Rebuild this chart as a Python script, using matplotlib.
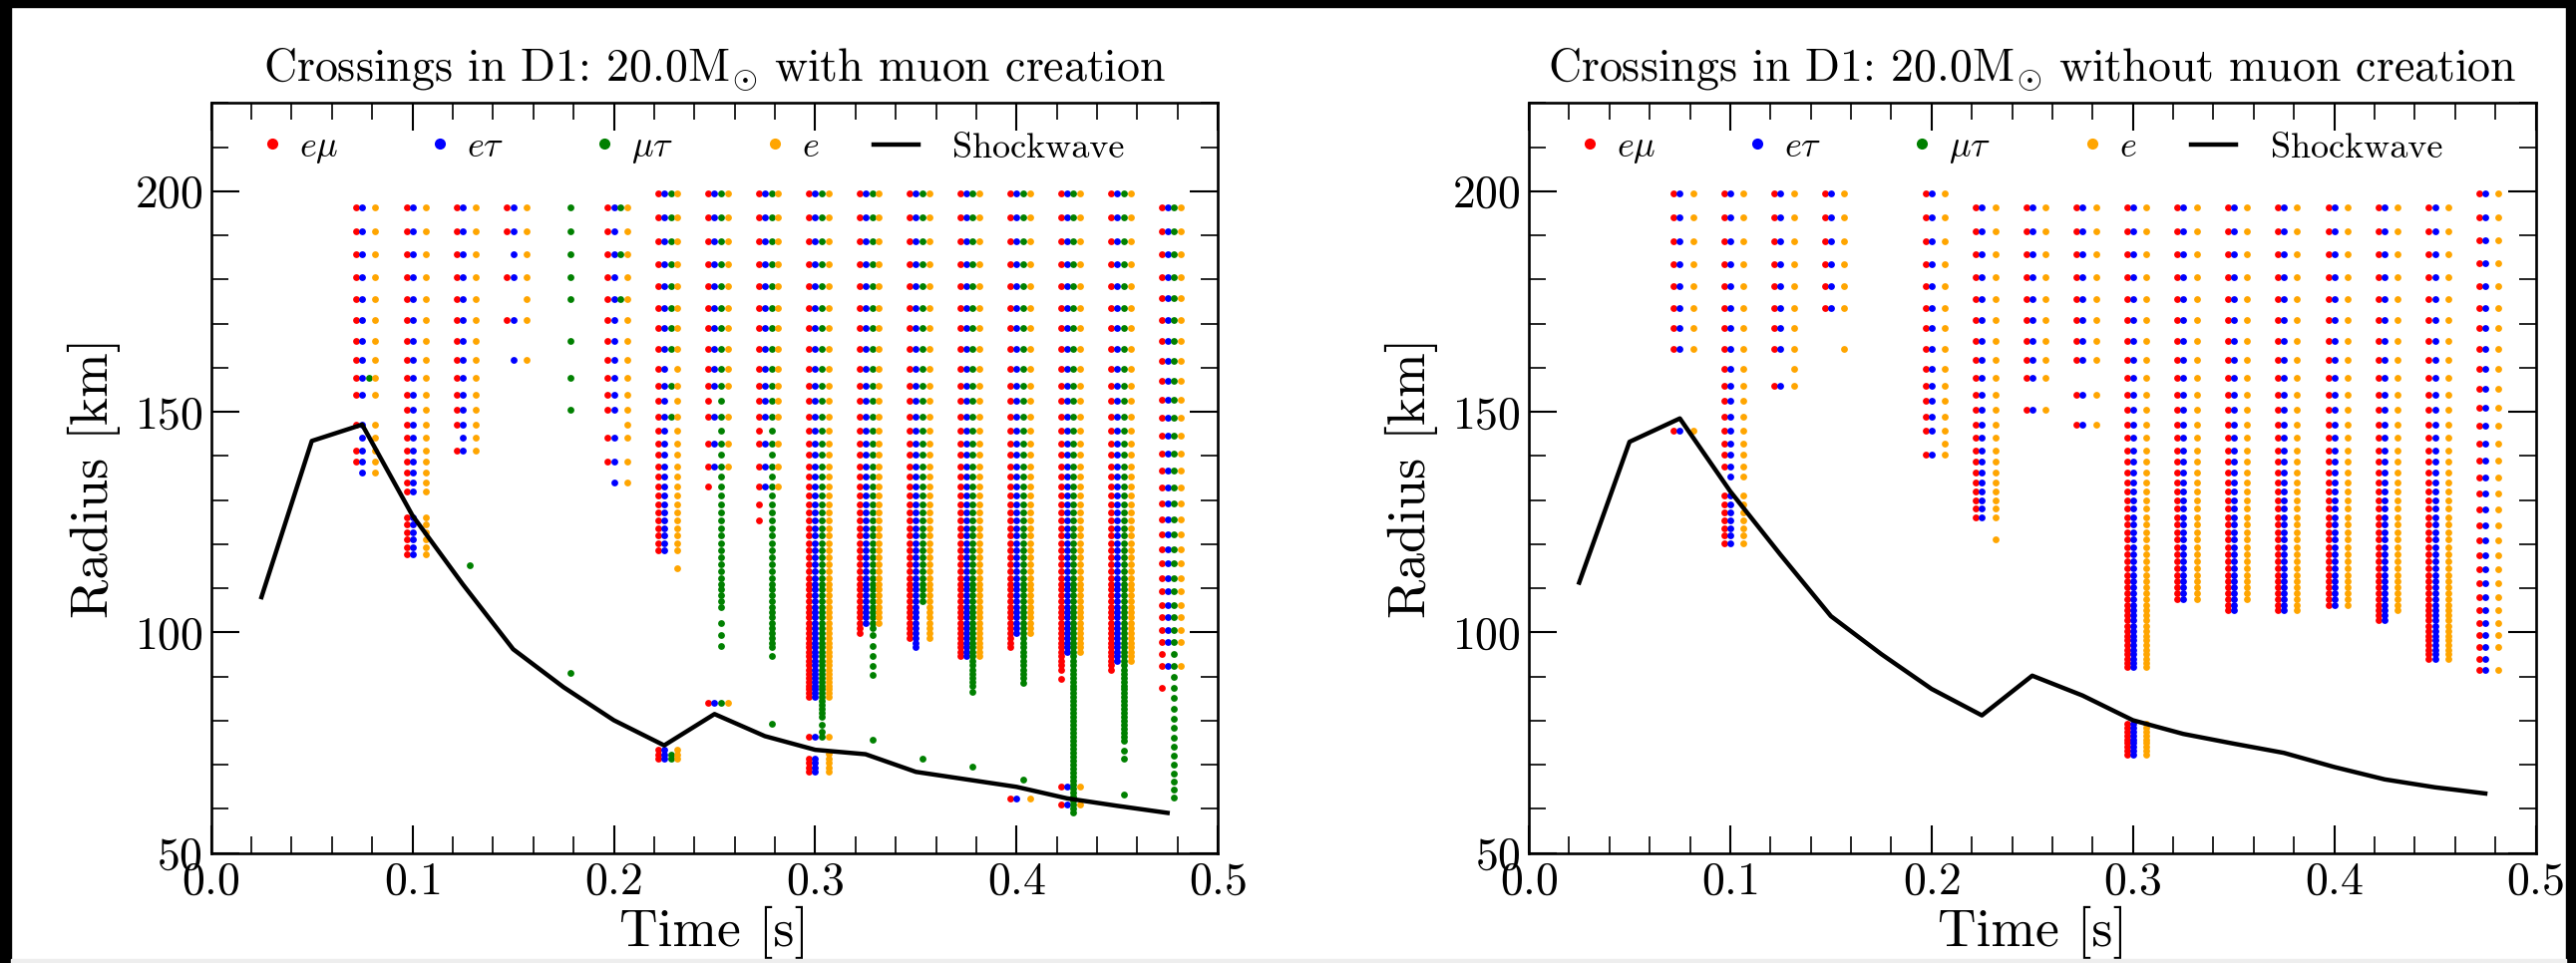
import matplotlib
matplotlib.use('Agg')
import matplotlib.pyplot as plt
from matplotlib.lines import Line2D
from matplotlib.patches import Rectangle
from matplotlib.ticker import MultipleLocator

plt.rcParams['font.family'] = 'cmr10'
plt.rcParams['mathtext.fontset'] = 'cm'
plt.rcParams['axes.formatter.use_mathtext'] = True
plt.rcParams['axes.unicode_minus'] = False

# ---------------- data ----------------
SHOCK_TIMES = [0.025, 0.05, 0.075, 0.1, 0.125, 0.15, 0.175, 0.2, 0.225, 0.25,
               0.275, 0.3, 0.325, 0.35, 0.375, 0.4, 0.425, 0.45, 0.475]
SHOCK_WITH = [108.0, 143.4, 147.1, 126.5, 110.9, 96.2, 87.6, 80.1, 74.4, 81.5,
              76.5, 73.4, 72.4, 68.4, 66.7, 65.0, 62.4, 60.7, 59.1]
SHOCK_WITHOUT = [111.3, 143.2, 148.5, 132.0, 117.6, 103.7, 95.1, 87.2, 81.2, 90.2,
                 85.7, 80.1, 77.0, 74.8, 72.7, 69.5, 66.7, 64.9, 63.5]

# radial grid levels
MESH_A = [196.4, 191.0, 185.7, 180.6, 175.6, 170.8, 166.1, 161.7, 157.6, 153.9,
          150.4, 147.1, 144.1, 141.3, 138.7, 136.3, 134.0, 131.9, 129.9, 128.0,
          126.1, 124.4, 122.7, 121.0, 119.3, 117.7, 116.1, 114.5, 113.0, 111.6,
          110.3, 109.0, 107.6, 106.3, 105.1, 103.9, 102.7, 101.5, 100.4, 99.3,
          98.2, 97.1, 96.1, 95.1, 94.1, 93.1, 92.1, 91.1, 90.2, 89.3,
          88.4, 87.5, 86.6, 85.7, 84.8, 83.9, 83.0, 82.1, 81.2, 80.3,
          79.4, 78.5, 77.6, 76.7, 75.8, 74.9, 74.0, 73.1, 72.2, 71.3,
          70.4, 69.5, 68.6, 67.7, 66.8, 65.9, 65.0, 64.1, 63.2, 62.3,
          61.4, 60.5, 59.6]
MESH_B = [199.6, 194.0, 188.7, 183.5, 178.4, 173.6, 169.0, 164.3, 159.8, 156.0,
          152.4, 148.9, 145.7, 142.8, 140.2, 137.6, 135.3, 133.1, 131.0, 129.1,
          127.2, 125.3, 123.7, 122.0, 120.3, 118.6, 117.1, 115.4, 113.9, 112.4,
          111.0, 109.7, 108.4, 107.0, 105.8, 104.5, 103.4, 102.2, 101.0, 99.9,
          98.8, 97.7, 96.7, 95.6, 94.6, 93.6, 92.6, 91.6, 90.7, 89.8,
          88.9, 88.0, 87.1, 86.2, 85.3, 84.4, 83.5, 82.6, 81.7, 80.8,
          79.9, 79.0, 78.1, 77.2, 76.3, 75.4, 74.5, 73.6, 72.7, 71.8,
          70.9, 70.0, 69.1, 68.2, 67.3, 66.4, 65.5, 64.6, 63.7, 62.8,
          61.9, 61.0, 60.1, 59.2]
MESH_GA = [196.4, 191.0, 185.7, 180.6, 175.7, 170.8, 166.1, 161.6, 157.1, 152.8,
           148.6, 144.5, 140.5, 136.7, 132.9, 129.3, 125.7, 122.3, 118.9, 115.6,
           112.4, 109.4, 106.3, 103.4, 100.6, 97.8, 95.1, 92.5, 90.0, 87.5,
           85.1, 82.7, 80.5, 78.3, 76.1, 74.0, 72.0, 70.0, 68.1, 66.2,
           64.4, 62.6, 60.9, 59.2]
MESH_GB = [199.6, 194.1, 188.8, 183.6, 178.5, 173.6, 168.9, 164.2, 159.7, 155.3,
           151.0, 146.9, 142.8, 138.9, 135.1, 131.4, 127.8, 124.3, 120.8, 117.5,
           114.3, 111.1, 108.1, 105.1, 102.2, 99.4, 96.7, 94.0, 91.4, 88.9]

# ---- left panel: with muon creation ----
# each column: runs (upper, lower) over that column's grid, or single radii
COL_TIMES_WITH = [0.075, 0.1, 0.125, 0.15, 0.175, 0.2, 0.225, 0.25, 0.275, 0.3,
                  0.325, 0.35, 0.375, 0.4, 0.425, 0.45, 0.475]
COL_MESH_WITH = ['A', 'A', 'A', 'A', 'A', 'A', 'B', 'B', 'B', 'B',
                 'B', 'B', 'B', 'B', 'B', 'B', 'GA']
EMU_WITH = [
    [(196.4, 153.9), 147.1, (141.3, 138.7)],
    [(196.4, 131.9), (126.1, 117.7)],
    [(196.4, 147.1), 141.3],
    [196.4, 191.0, 180.6, 170.8],
    [],
    [(196.4, 150.4), 144.1, 138.7],
    [(199.6, 118.6), 73.4, 72.4, 71.4],
    [(199.6, 156.0), 152.4, 148.9, 142.8, 137.6, 133.1, 84.1],
    [(199.6, 145.7), 142.8, 137.6, 133.1, 129.1, 125.3],
    [(199.6, 85.3), 76.4, 71.4, 70.4, 69.4, 68.5],
    [(199.6, 99.9)],
    [(199.6, 98.8)],
    [(199.6, 94.6)],
    [(199.6, 96.7), 62.4],
    [(199.6, 91.6), 89.5, 65.0, 60.9],
    [(199.6, 91.6)],
    [(196.4, 97.8), 95.1, 92.5, 87.5],
]
ETAU_WITH = [
    [(196.4, 153.9), (147.1, 136.3)],
    [(196.4, 131.9), (126.1, 117.7)],
    [(196.4, 141.3)],
    [196.4, 191.0, 185.7, 180.6, 170.8, 161.7],
    [],
    [(196.4, 150.4), 144.1, 138.7, 134.0],
    [(199.6, 118.6), 73.4, 72.4, 71.4],
    [(199.6, 156.0), 148.9, 142.8, 137.6, 84.1],
    [(199.6, 148.9), 142.8, 137.6, 133.1],
    [(199.6, 85.3), 76.4, 71.4, 70.4, 69.4, 68.5],
    [(199.6, 102.2)],
    [(199.6, 96.7)],
    [(199.6, 94.6)],
    [(199.6, 99.9), 62.4],
    [(199.6, 95.6), 65.0, 60.9],
    [(199.6, 93.6)],
    [(196.4, 97.8), 92.5],
]
MUTAU_WITH = [
    [157.6],
    [],
    [115.3],
    [],
    [196.4, 191.0, 185.7, 180.6, 175.6, 166.1, 157.6, 150.4, 90.9],
    [196.4, 185.7, 175.6],
    [(199.6, 164.3), 156.0, 148.9, 72.4, 71.4],
    [(199.6, 105.8), 102.2, 99.5, 97.0, 84.1],
    [(199.6, 96.7), 94.6, 79.2],
    [(199.6, 81.7), 80.8, 79.1, 77.5, 76.4],
    [(199.6, 101.0), 99.5, 97.0, 94.6, 92.5, 90.4, 75.6],
    [(199.6, 107.0), 71.4],
    [(199.6, 88.0), 86.6, 69.5],
    [(199.6, 89.8), 88.5, 66.7],
    [(199.6, 59.2)],
    [(199.6, 75.4), 73.1, 71.4, 63.2],
    [(196.4, 62.6)],
]
E_WITH = [
    [(196.4, 153.9), (147.1, 136.3)],
    [(196.4, 131.9), (126.1, 117.7)],
    [(196.4, 141.3)],
    [196.4, 191.0, 185.7, 180.6, 175.6, 170.8, 161.7],
    [],
    [(196.4, 147.1), 144.1, 138.7, 134.0],
    [(199.6, 118.6), 114.6, 73.4, 72.4, 71.4],
    [(199.6, 156.0), 148.9, 142.8, 137.6, 84.1],
    [(199.6, 148.9), 142.8, 137.6, 133.1],
    [(199.6, 85.3), 76.4, 72.5, 71.4, 70.4, 69.4, 68.5],
    [(199.6, 102.2)],
    [(199.6, 98.8)],
    [(199.6, 94.6)],
    [(199.6, 99.9), 62.4],
    [(199.6, 95.6), 65.0, 60.9],
    [(199.6, 93.6)],
    [(196.4, 97.8), 92.5],
]

# ---- right panel: without muon creation ----
COL_TIMES_WITHOUT = [0.075, 0.1, 0.125, 0.15, 0.2, 0.225, 0.25, 0.275, 0.3,
                     0.325, 0.35, 0.375, 0.4, 0.425, 0.45, 0.475]
COL_MESH_WITHOUT = ['B', 'B', 'B', 'B', 'B', 'A', 'A', 'A', 'A',
                    'A', 'A', 'A', 'A', 'A', 'A', 'GB']
EMU_WITHOUT = [
    [(199.6, 164.3), 145.7],
    [(199.6, 137.6), (131.0, 120.3)],
    [(199.6, 164.3), 156.0],
    [(199.6, 173.6)],
    [(199.6, 145.7), 140.2],
    [(196.4, 126.1)],
    [(196.4, 157.6), 150.4],
    [(196.4, 161.7), 153.9, 147.1],
    [(196.4, 92.1), (79.4, 72.2)],
    [(196.4, 107.6)],
    [(196.4, 105.1)],
    [(196.4, 105.1)],
    [(196.4, 106.3)],
    [(196.4, 102.7)],
    [(196.4, 94.1)],
    [(199.6, 91.4)],
]
ETAU_WITHOUT = [
    [(199.6, 164.3), 145.7],
    [(199.6, 135.3), (131.0, 120.3)],
    [(199.6, 164.3), 156.0],
    [(199.6, 173.6)],
    [(199.6, 145.7), 140.2],
    [(196.4, 126.1)],
    [(196.4, 157.6), 150.4],
    [(196.4, 161.7), 153.9, 147.1],
    [(196.4, 92.1), (79.4, 72.2)],
    [(196.4, 107.6)],
    [(196.4, 105.1)],
    [(196.4, 105.1)],
    [(196.4, 106.3)],
    [(196.4, 102.7)],
    [(196.4, 94.1)],
    [(199.6, 91.4)],
]
MUTAU_WITHOUT = [[] for _ in COL_TIMES_WITHOUT]
E_WITHOUT = [
    [(199.6, 164.3), 145.7],
    [(199.6, 135.3), (131.0, 120.3)],
    [(199.6, 156.0)],
    [(199.6, 173.6), 164.3],
    [(199.6, 140.2)],
    [(196.4, 126.1), 121.0],
    [(196.4, 157.6), 150.4],
    [(196.4, 161.7), 153.9, 147.1],
    [(196.4, 92.1), (79.4, 72.2)],
    [(196.4, 107.6)],
    [(196.4, 107.6)],
    [(196.4, 105.1)],
    [(196.4, 106.3)],
    [(196.4, 105.1)],
    [(196.4, 94.1)],
    [(199.6, 96.7), 91.4],
]

FLAVOR_LABELS = [r'$e\mu$', r'$e\tau$', r'$\mu\tau$', r'$e$']
FLAVOR_COLORS = ['#ff0000', '#0000ff', '#008000', '#ffa500']
FLAVOR_DT = [-0.003, 0.0, 0.0033, 0.0066]

MESHES = {'A': MESH_A, 'B': MESH_B, 'GA': MESH_GA, 'GB': MESH_GB}


def expand(runs, mesh):
    out = []
    for run in runs:
        if isinstance(run, tuple):
            hi, lo = run
            out += [r for r in mesh if lo - 0.05 <= r <= hi + 0.05]
        else:
            out.append(run)
    return out


# ---------------- figure ----------------
W, H = 2583, 966
fig = plt.figure(figsize=(W / 100, H / 100), dpi=100)


def rect(x0, x1, ytop, ybot):
    return [x0 / W, (H - ybot) / H, (x1 - x0) / W, (ybot - ytop) / H]


axL = fig.add_axes(rect(211.7, 1221.2, 103.3, 855.7))
axR = fig.add_axes(rect(1533.0, 2542.5, 103.3, 855.7))

panels = [
    (axL, 'with', COL_TIMES_WITH, COL_MESH_WITH,
     [EMU_WITH, ETAU_WITH, MUTAU_WITH, E_WITH], SHOCK_WITH),
    (axR, 'without', COL_TIMES_WITHOUT, COL_MESH_WITHOUT,
     [EMU_WITHOUT, ETAU_WITHOUT, MUTAU_WITHOUT, E_WITHOUT], SHOCK_WITHOUT),
]

LEG_FS = 26
for ax, word, times, meshes, flavors, shock in panels:
    for fl, col, dt in zip(flavors, FLAVOR_COLORS, FLAVOR_DT):
        xs, ys = [], []
        for t, m, runs in zip(times, meshes, fl):
            rs = expand(runs, MESHES[m])
            xs += [t + dt] * len(rs)
            ys += rs
        ax.plot(xs, ys, ls='none', marker='o', ms=4.9, color=col,
                mec='none', zorder=2)
    ax.plot(SHOCK_TIMES, shock, color='black', lw=3.2, zorder=3)

    ax.set_xlim(0, 0.5)
    ax.set_ylim(50, 220)
    ax.xaxis.set_major_locator(MultipleLocator(0.1))
    ax.xaxis.set_minor_locator(MultipleLocator(0.02))
    ax.yaxis.set_major_locator(MultipleLocator(50))
    ax.yaxis.set_minor_locator(MultipleLocator(10))
    ax.tick_params(which='both', direction='in', top=True, right=True)
    ax.tick_params(which='major', length=20, width=1.5, labelsize=33, pad=6)
    ax.tick_params(which='minor', length=12, width=1.2)
    for s in ax.spines.values():
        s.set_linewidth(1.9)

    ax.set_xlabel('Time [s]', fontsize=38.5, labelpad=2)
    ax.set_ylabel('Radius [km]', fontsize=38.5, labelpad=10)
    ax.set_title(r'Crossings in D1: 20.0$\mathrm{M}_{\!\odot}\!$ ' + word
                 + ' muon creation', fontsize=33, pad=16)

    handles = [Line2D([], [], ls='none', marker='o', ms=8, color=c, mec='none')
               for c in FLAVOR_COLORS]
    leg1 = ax.legend(handles, FLAVOR_LABELS, loc='center left',
                     bbox_to_anchor=(0.0374, 0.9393), ncol=4, frameon=False,
                     fontsize=LEG_FS, handlelength=1.3, handletextpad=0.1,
                     columnspacing=2.15, borderpad=0, borderaxespad=0)
    ax.add_artist(leg1)
    ax.legend([Line2D([], [], color='black', lw=3.2)], ['Shockwave'],
              loc='center left', bbox_to_anchor=(0.658, 0.9393), frameon=False,
              fontsize=LEG_FS, handlelength=1.25, handletextpad=0.95,
              borderpad=0, borderaxespad=0)

# dark frame around the picture
fig.add_artist(Rectangle((0, 1 - 7 / H), 1, 7 / H, transform=fig.transFigure,
                         color='black', zorder=10))
fig.add_artist(Rectangle((0, 0), 11 / W, 1, transform=fig.transFigure,
                         color='black', zorder=10))
fig.add_artist(Rectangle((1 - 10 / W, 0), 10 / W, 1, transform=fig.transFigure,
                         color='black', zorder=10))
fig.add_artist(Rectangle((11 / W, 0), 1 - 21 / W, 4 / H, transform=fig.transFigure,
                         color='#eeeeee', zorder=10))

fig.savefig('out.png', dpi=100)
